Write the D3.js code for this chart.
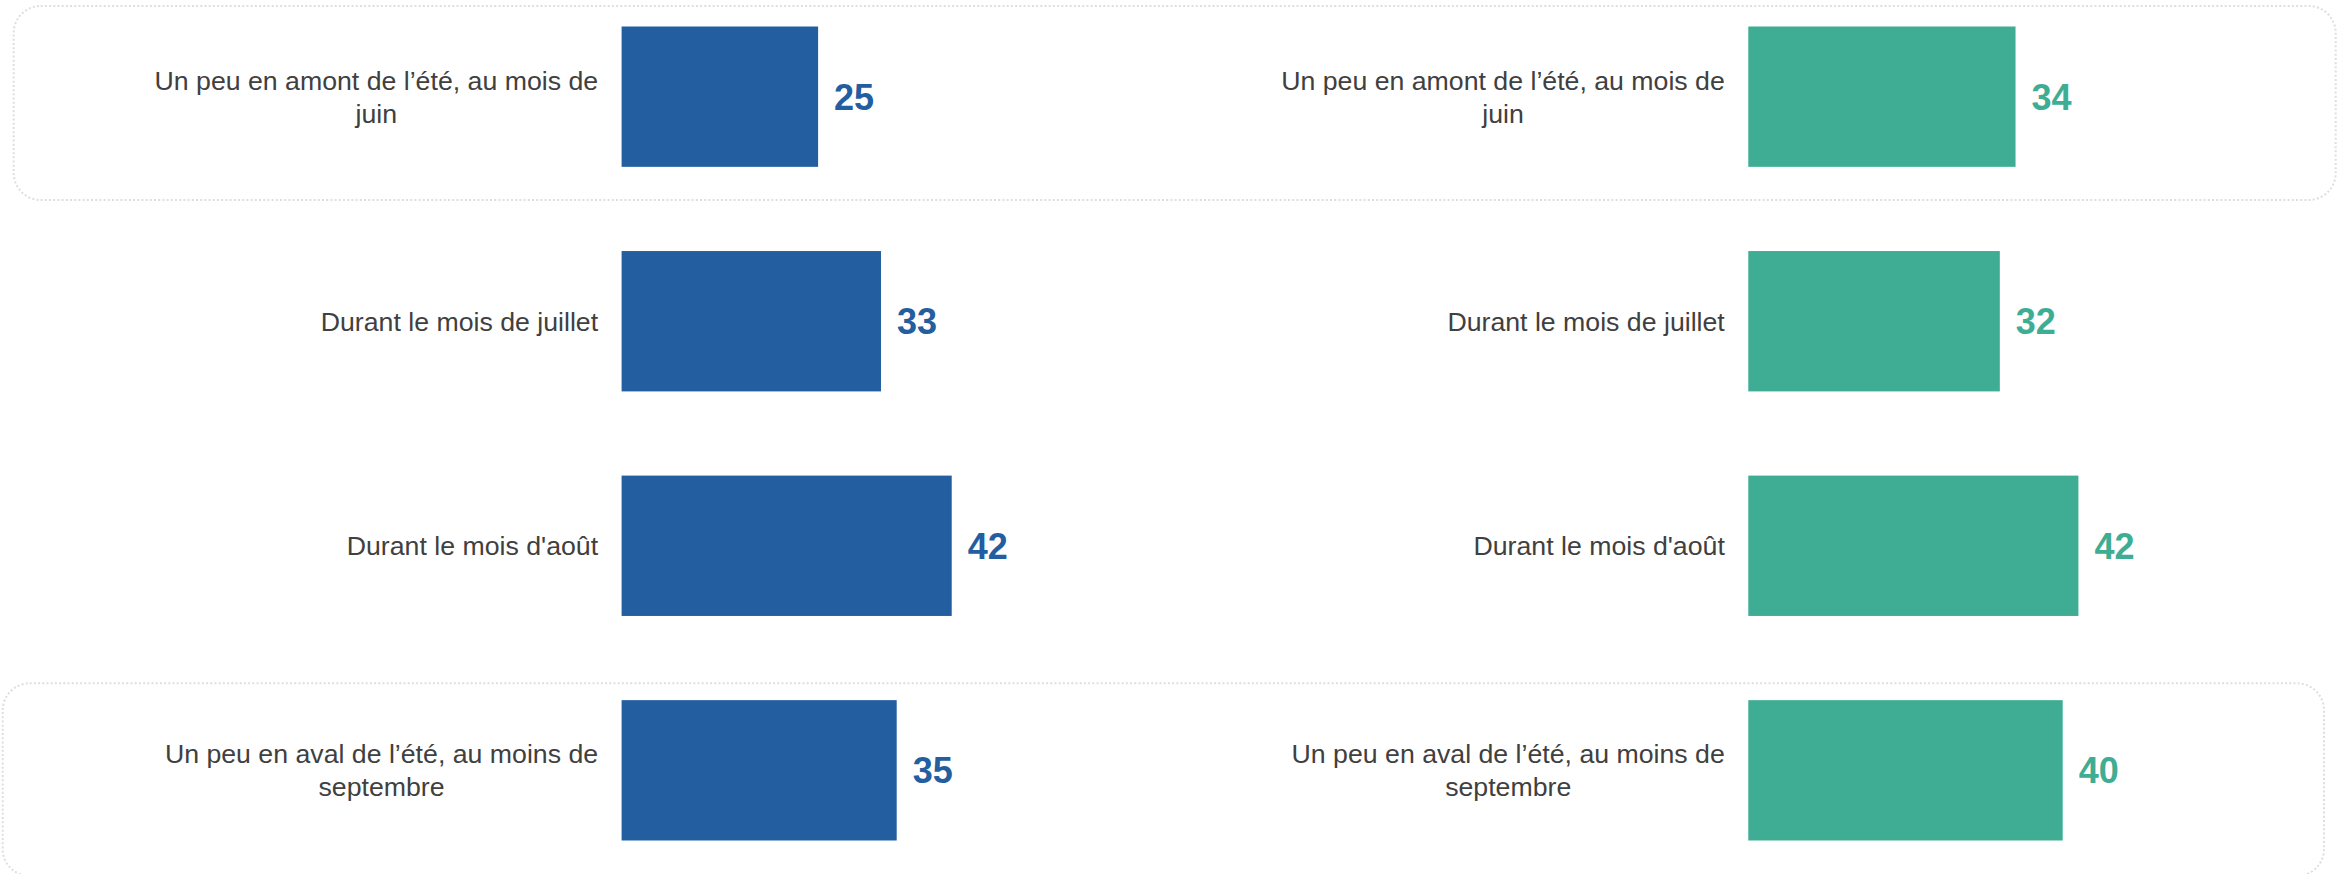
<!DOCTYPE html>
<html>
<head>
<meta charset="utf-8">
<script src="https://cdn.jsdelivr.net/npm/d3@7"></script>
<style>
  html, body { margin: 0; padding: 0; background: #fff; }
  svg { display: block; font-family: 'Liberation Sans', Arial, sans-serif; }
</style>
</head>
<body>
<script>
const width = 2343;
const height = 874;

const categories = [
  'Un peu en amont de l’été, au mois de juin',
  'Durant le mois de juillet',
  "Durant le mois d'août",
  'Un peu en aval de l’été, au moins de septembre'
];
const valuesLeft = [25, 33, 42, 35];
const valuesRight = [34, 32, 42, 40];

const panels = [
  { values: valuesLeft, x0: 621.6, color: '#235ea0' },
  { values: valuesRight, x0: 1748.3, color: '#3ead94' }
];

const svg = d3.select('body')
  .append('svg')
    .attr('width', width)
    .attr('height', height)
    .attr('viewBox', [0, 0, width, height].join(' '));

// dotted highlight frames (first and last rows)
const frames = [
  { x: 13.7, y: 6, w: 2335.7 - 13.7, h: 200 - 6 },
  { x: 2.7, y: 683.3, w: 2324 - 2.7, h: 876 - 683.3 }
];

svg.append('g')
  .selectAll('rect')
  .data(frames)
  .join('rect')
    .attr('x', d => d.x)
    .attr('y', d => d.y)
    .attr('width', d => d.w)
    .attr('height', d => d.h)
    .attr('rx', 27)
    .attr('fill', 'none')
    .attr('stroke', '#dedede')
    .attr('stroke-width', 2)
    .attr('stroke-dasharray', '2,2.2');

const x = d3.scaleLinear()
  .domain([0, 100])
  .range([0, 786]);

const y = d3.scaleBand()
  .domain(categories)
  .range([26.5, 840.5])
  .paddingInner(0.375)
  .paddingOuter(0);

const wrap = (text, maxWidth, lineHeight) => {
  text.each(function() {
    const t = d3.select(this);
    const words = t.text().split(/\s+/);
    const anchorX = +t.attr('x');
    t.text(null);
    let lines = [];
    let line = [];
    const probe = t.append('tspan');
    words.forEach((w) => {
      line.push(w);
      probe.text(line.join(' '));
      if (probe.node().getComputedTextLength() > maxWidth && line.length > 1) {
        line.pop();
        lines.push(line.join(' '));
        line = [w];
      }
    });
    lines.push(line.join(' '));
    // widest line sets the right edge, lines centred inside that block
    let widest = 0;
    lines.forEach((l) => {
      probe.text(l);
      widest = Math.max(widest, probe.node().getComputedTextLength());
    });
    probe.remove();
    const cx = anchorX - widest / 2;
    const first = -(lines.length - 1) / 2 * lineHeight;
    lines.forEach((l, i) => {
      t.append('tspan')
        .attr('x', cx)
        .attr('y', +t.attr('y') + first + i * lineHeight)
        .attr('dy', '0.35em')
        .text(l);
    });
  });
};

panels.forEach((p) => {
  const g = svg.append('g')
    .attr('transform', `translate(${p.x0}, 0)`);

  const rows = categories.map((c, i) => ({ label: c, value: p.values[i] }));

  g.selectAll('.bar')
    .data(rows)
    .join('rect')
      .attr('class', 'bar')
      .attr('x', 0)
      .attr('y', d => y(d.label))
      .attr('width', d => x(d.value))
      .attr('height', y.bandwidth())
      .attr('fill', p.color);

  g.selectAll('.value')
    .data(rows)
    .join('text')
      .attr('class', 'value')
      .attr('x', d => x(d.value) + 16)
      .attr('y', d => y(d.label) + y.bandwidth() / 2)
      .attr('dy', '0.36em')
      .attr('fill', p.color)
      .attr('font-size', 36)
      .attr('font-weight', 'bold')
      .text(d => d.value);

  g.selectAll('.label')
    .data(rows)
    .join('text')
      .attr('class', 'label')
      .attr('x', -23.5)
      .attr('y', d => y(d.label) + y.bandwidth() / 2)
      .attr('fill', '#404040')
      .attr('font-size', 26.7)
      .attr('text-anchor', 'middle')
      .text(d => d.label)
      .call(wrap, 460, 33);
});
</script>
</body>
</html>
